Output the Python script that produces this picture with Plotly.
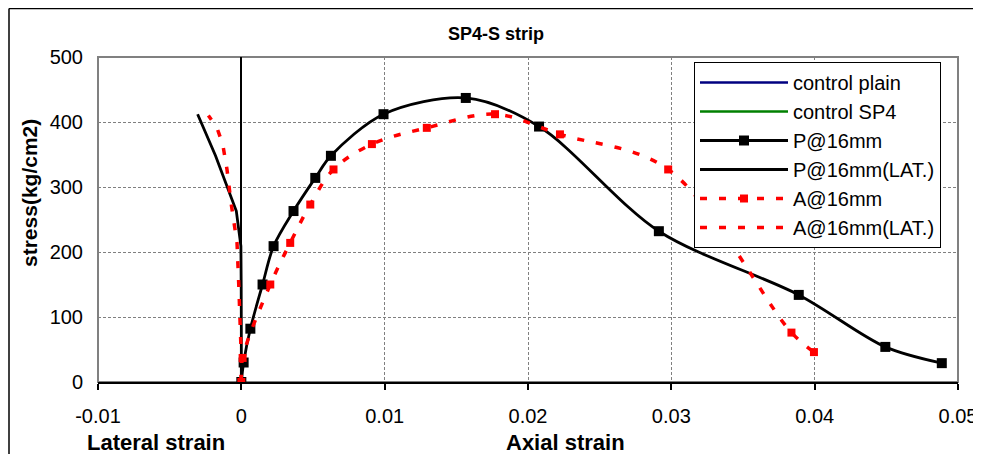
import plotly.graph_objects as go

# ---- data ----
p16_x = [0, 0.00016, 0.00063, 0.00148, 0.00225, 0.00364, 0.00516, 0.00625, 0.00992,
         0.01566, 0.02077, 0.02913, 0.03889, 0.04493, 0.04887]
p16_y = [0, 30, 82, 150, 209, 263, 314, 348, 412, 437, 393, 232, 134, 54, 29]

p16_lat_x = [0, 0.00001, 0, -0.00001, -0.00003, -0.00035, -0.0012, -0.0018, -0.00305]
p16_lat_y = [0, 30, 82, 150, 209, 263, 314, 348, 412]

a16_x = [0, 0.00009, 0.00202, 0.00341, 0.00481, 0.00643, 0.00911, 0.01294, 0.0177,
         0.02223, 0.02978, 0.03838, 0.03995]
a16_y = [0, 37, 150, 214, 273, 327, 366, 391, 412, 381, 327, 76, 46]

a16_lat_x = [0, 0, -0.00018, -0.0003, -0.0007, -0.001, -0.0013, -0.0017, -0.0023]
a16_lat_y = [0, 37, 150, 214, 273, 327, 366, 391, 410]

x_ticks = [-0.01, 0, 0.01, 0.02, 0.03, 0.04, 0.05]
x_tick_text = ["-0.01", "0", "0.01", "0.02", "0.03", "0.04", "0.05"]
y_ticks = [0, 100, 200, 300, 400, 500]

FONT = "Arial, Liberation Sans, sans-serif"

fig = go.Figure()
fig.add_trace(go.Scatter(x=[None], y=[None], mode="lines", name="control plain",
                         line=dict(color="#000080", width=2.5)))
fig.add_trace(go.Scatter(x=[None], y=[None], mode="lines", name="control SP4",
                         line=dict(color="#008000", width=2.5)))
fig.add_trace(go.Scatter(x=p16_x, y=p16_y, mode="lines+markers", name="P@16mm",
                         line=dict(color="black", width=2.8, shape="spline", smoothing=0.9),
                         marker=dict(symbol="square", size=10, color="black")))
fig.add_trace(go.Scatter(x=p16_lat_x, y=p16_lat_y, mode="lines", name="P@16mm(LAT.)",
                         line=dict(color="black", width=2.8)))
fig.add_trace(go.Scatter(x=a16_x, y=a16_y, mode="lines+markers", name="A@16mm",
                         line=dict(color="#FF0000", width=3.5, dash="7px,12px",
                                   shape="spline", smoothing=1.0),
                         marker=dict(symbol="square", size=8, color="#FF0000")))
fig.add_trace(go.Scatter(x=a16_lat_x, y=a16_lat_y, mode="lines", name="A@16mm(LAT.)",
                         line=dict(color="#FF0000", width=3.5, dash="7px,12px")))

# screen-pixel geometry (page body has an 8px margin)
OFF = 8
L, R, T, B = 98, 958, 57, 382
W, H = 981 - OFF, 462 - 2 * OFF


def px(xp):
    return (xp - L) / (R - L)


def py(yp):
    return (B - yp) / (B - T)


fig.update_layout(
    width=W, height=H,
    margin=dict(l=L - OFF, r=W - (R - OFF), t=T - OFF, b=H - (B - OFF), autoexpand=False),
    paper_bgcolor="white", plot_bgcolor="white",
    font=dict(family=FONT, color="black", size=20),
    showlegend=True,
    legend=dict(x=px(694), y=py(62), xanchor="left", yanchor="top",
                bgcolor="white", bordercolor="black", borderwidth=1,
                font=dict(family=FONT, size=20, color="black"),
                itemwidth=88, tracegroupgap=0),
    xaxis=dict(range=[-0.01, 0.05], tickvals=x_ticks, ticktext=x_tick_text,
               automargin=False, ticklabeloverflow="allow",
               showgrid=True, gridcolor="#808080", griddash="3px,2px", gridwidth=1,
               zeroline=True, zerolinecolor="black", zerolinewidth=1.5,
               showline=True, linecolor="black", linewidth=1.5,
               ticks="outside", ticklen=6, tickcolor="black", tickwidth=1.5,
               ticklabelstandoff=9,
               tickfont=dict(family=FONT, size=20, color="black")),
    yaxis=dict(range=[0, 500], tickvals=y_ticks, automargin=False,
               showgrid=True, gridcolor="#808080", griddash="3px,2px", gridwidth=1,
               zeroline=False, showline=False, ticks="", ticklabelstandoff=14,
               tickfont=dict(family=FONT, size=20, color="black")),
    shapes=[
        dict(type="rect", xref="paper", yref="paper", x0=0, x1=1, y0=0, y1=1,
             line=dict(color="#808080", width=2), layer="below"),
        # outer chart border (top and left edges visible in the reference)
        dict(type="line", xref="paper", yref="paper", x0=px(9), x1=px(990),
             y0=py(8.5), y1=py(8.5), line=dict(color="black", width=1.5)),
        dict(type="line", xref="paper", yref="paper", x0=px(9), x1=px(9),
             y0=py(8.5), y1=py(470), line=dict(color="black", width=1.5)),
    ],
    annotations=[
        dict(text="<b>SP4-S strip</b>", xref="paper", yref="paper", x=px(496), y=py(34),
             showarrow=False, font=dict(family=FONT, size=18, color="black"),
             xanchor="center", yanchor="middle"),
        dict(text="<b>stress(kg/cm2)</b>", xref="paper", yref="paper", x=px(29), y=py(193),
             showarrow=False, textangle=-90, font=dict(family=FONT, size=21, color="black"),
             xanchor="center", yanchor="middle"),
        dict(text="<b>Lateral strain</b>", xref="paper", yref="paper", x=px(156), y=py(443),
             showarrow=False, font=dict(family=FONT, size=22, color="black"),
             xanchor="center", yanchor="middle"),
        dict(text="<b>Axial strain</b>", xref="paper", yref="paper", x=px(565), y=py(443),
             showarrow=False, font=dict(family=FONT, size=22, color="black"),
             xanchor="center", yanchor="middle"),
    ],
)

fig.write_html("out.html")
